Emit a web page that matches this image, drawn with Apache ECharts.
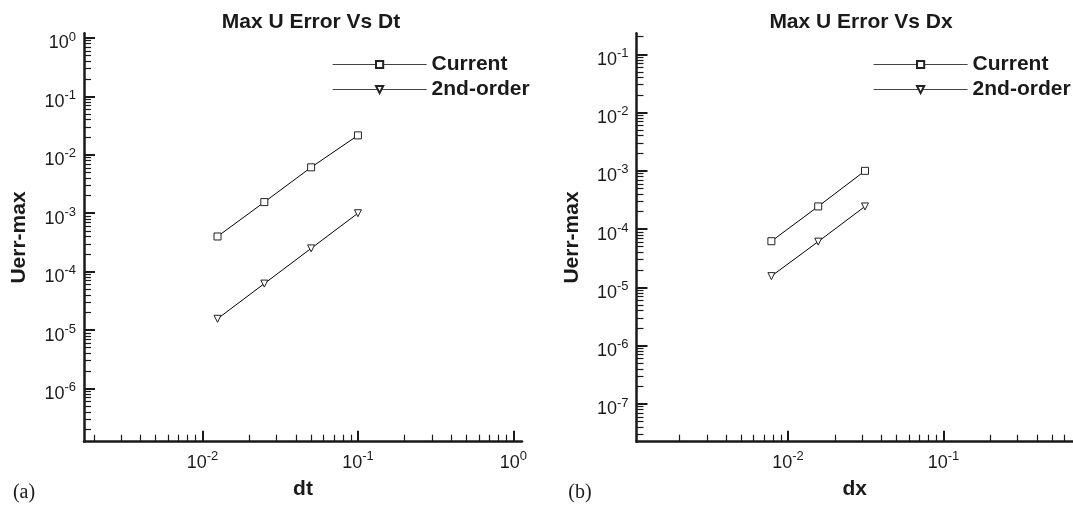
<!DOCTYPE html>
<html>
<head>
<meta charset="utf-8">
<title>Max U Error</title>
<script src="https://cdn.jsdelivr.net/npm/echarts@6/dist/echarts.min.js"></script>
<style>
  html, body { margin: 0; padding: 0; background: #fff; }
  #chart { width: 1073px; height: 505px; }
</style>
</head>
<body>
<div id="chart"></div>
<script>
// (a) max U error against time step
const dtValues = [0.0125, 0.025, 0.05, 0.1];
const dtCurrent = [4.0e-4, 1.55e-3, 6.1e-3, 2.15e-2];
const dtSecondOrder = [1.56e-5, 6.25e-5, 2.5e-4, 1.0e-3];

// (b) max U error against grid spacing
const dxValues = [0.0078125, 0.015625, 0.03125];
const dxCurrent = [6.2e-5, 2.45e-4, 1.0e-3];
const dxSecondOrder = [1.56e-5, 6.1e-5, 2.45e-4];

// labelled decades
const dtTicks = [0.01, 0.1, 1];
const dtErrTicks = [1, 0.1, 0.01, 1e-3, 1e-4, 1e-5, 1e-6];
const dxTicks = [0.01, 0.1];
const dxErrTicks = [0.1, 0.01, 1e-3, 1e-4, 1e-5, 1e-6, 1e-7];

const FONT = 'Liberation Sans';
const INK = '#1a1a1a';

// 2..9 inside every decade from the labelled ones (plus one below)
function minorTicks(decades) {
  const lo = Math.min(...decades) / 10;
  const out = [];
  for (let d = lo; d <= Math.max(...decades) * 1.01; d *= 10) {
    for (let k = 2; k <= 9; k++) out.push(Number((k * d).toPrecision(3)));
  }
  return out;
}

function powerLabel(v) {
  return '{b|10}{s|' + Math.round(Math.log10(v)) + '}';
}

const richLabel = {
  b: { fontSize: 18, fontFamily: FONT, color: INK, lineHeight: 22, verticalAlign: 'bottom' },
  s: { fontSize: 13, fontFamily: FONT, color: INK, lineHeight: 12, verticalAlign: 'top' }
};

// two axes per side: one with the long ticks + labels, one with the short ticks
function axisPair(grid, pos, min, max, decades, name, nameGap) {
  const vertical = pos === 'left';
  const major = {
    type: 'log', logBase: 10, gridIndex: grid, position: pos, min: min, max: max,
    name: name, nameLocation: 'middle', nameGap: nameGap,
    nameTextStyle: { fontSize: 21, fontWeight: 'bold', fontFamily: FONT, color: INK },
    axisLine: { show: true, lineStyle: { color: INK, width: 2.5 } },
    axisTick: { show: true, inside: true, length: 11, customValues: decades, lineStyle: { color: INK, width: 2 } },
    axisLabel: {
      show: true, margin: 8, fontSize: 18, customValues: decades, formatter: powerLabel, rich: richLabel,
      padding: vertical ? [7, 0, 0, 0] : 0
    },
    splitLine: { show: false }
  };
  const minor = {
    type: 'log', logBase: 10, gridIndex: grid, position: pos, min: min, max: max,
    axisLine: { show: false },
    axisTick: { show: true, inside: true, length: 7, customValues: minorTicks(decades), lineStyle: { color: INK, width: 1.2 } },
    axisLabel: { show: false },
    splitLine: { show: false }
  };
  return [major, minor];
}

const pairs = (xs, ys) => xs.map((x, i) => [x, ys[i]]);

const triangleDown = 'path://M0,0L10,0L5,9Z';

function lineSeries(name, symbol, xi, yi, data) {
  return {
    name: name, type: 'line', xAxisIndex: xi, yAxisIndex: yi, data: data,
    symbol: symbol, symbolSize: 7, showAllSymbol: true,
    lineStyle: { color: '#000', width: 1 },
    itemStyle: { color: '#fff', borderColor: '#222', borderWidth: 1 },
    emphasis: { disabled: true }
  };
}

function legendAt(left) {
  return {
    data: ['Current', '2nd-order'], left: left, top: 49, orient: 'vertical',
    itemWidth: 94, itemHeight: 9, itemGap: 4, selectedMode: false,
    textStyle: { fontSize: 21, fontWeight: 'bold', fontFamily: FONT, color: INK, lineHeight: 20 },
    lineStyle: { color: '#444', width: 1.2 }
  };
}

const titleStyle = { fontSize: 21, fontWeight: 'bold', fontFamily: FONT, color: INK };
const tagStyle = { fontSize: 20, fontWeight: 'normal', fontFamily: 'Liberation Serif', color: INK };

const chart = echarts.init(document.getElementById('chart'));
chart.setOption({
  animation: false,
  backgroundColor: '#fff',
  textStyle: { fontFamily: FONT },
  title: [
    { text: 'Max U Error Vs Dt', left: 306, top: 7, textAlign: 'center', textStyle: titleStyle },
    { text: 'Max U Error Vs Dx', left: 856, top: 7, textAlign: 'center', textStyle: titleStyle },
    { text: '(a)', left: 19, top: 478, textAlign: 'center', textStyle: tagStyle },
    { text: '(b)', left: 575, top: 478, textAlign: 'center', textStyle: tagStyle }
  ],
  legend: [legendAt(327), legendAt(868)],
  grid: [
    { left: 84, top: 33.3, width: 438, height: 408.4, containLabel: false, outerBoundsMode: 'none' },
    { left: 636.5, top: 33.3, width: 436.5, height: 408.4, containLabel: false, outerBoundsMode: 'none' }
  ],
  xAxis: [
    ...axisPair(0, 'bottom', 1.73e-3, 1.136, dtTicks, 'dt', 37),
    ...axisPair(1, 'bottom', 1.06e-3, 0.68, dxTicks, 'dx', 37)
  ],
  yAxis: [
    ...axisPair(0, 'left', 1.23e-7, 1.2, dtErrTicks, 'Uerr-max', 54),
    ...axisPair(1, 'left', 2.25e-8, 0.229, dxErrTicks, 'Uerr-max', 54)
  ],
  series: [
    lineSeries('Current', 'rect', 0, 0, pairs(dtValues, dtCurrent)),
    lineSeries('2nd-order', triangleDown, 0, 0, pairs(dtValues, dtSecondOrder)),
    lineSeries('Current', 'rect', 2, 2, pairs(dxValues, dxCurrent)),
    lineSeries('2nd-order', triangleDown, 2, 2, pairs(dxValues, dxSecondOrder))
  ]
});
</script>
</body>
</html>
